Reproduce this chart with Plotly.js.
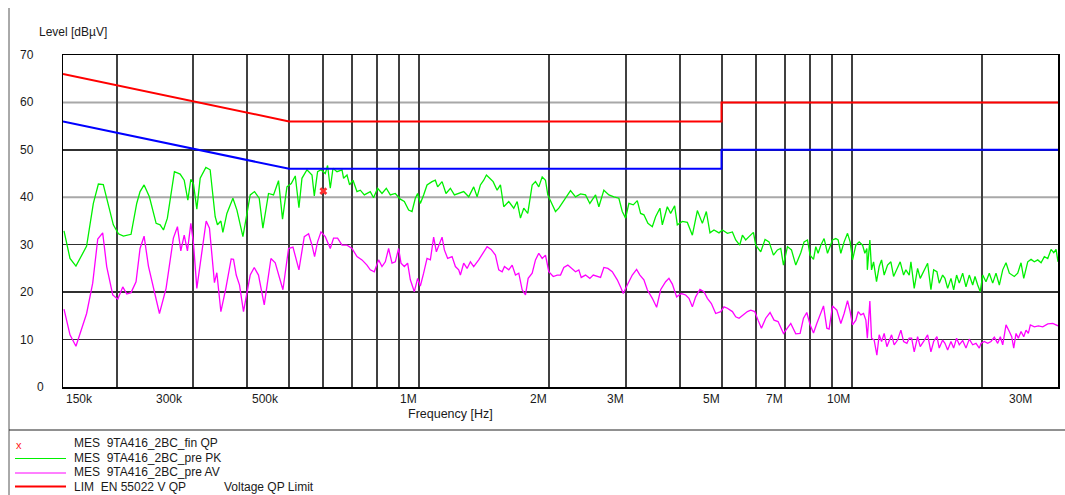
<!DOCTYPE html>
<html>
<head>
<meta charset="utf-8">
<script src="https://cdn.plot.ly/plotly-3.0.1.min.js"></script>
<style>html,body{margin:0;padding:0;background:#fff;}#chart{width:1065px;height:495px;}</style>
</head>
<body>
<div id="chart"></div>
<script>
// ---- Data (frequency in MHz, level in dBµV) ----
const freqPK = [0.1508,0.1557,0.1607,0.1701,0.1763,0.1811,0.1859,0.1961,0.2015,0.2069,
0.2155,0.2221,0.2261,0.2310,0.2376,0.2463,0.2516,0.2561,0.2615,0.2715,
0.2799,0.2860,0.2916,0.2963,0.3005,0.3059,0.3114,0.3210,0.3284,0.3373,
0.3414,0.3477,0.3514,0.3590,0.3707,0.3787,0.3910,0.4065,0.4159,0.4264,
0.4349,0.4481,0.4602,0.4726,0.4828,0.4943,0.5058,0.5167,0.5269,0.5354,
0.5499,0.5648,0.5718,0.5819,0.5925,0.6062,0.6137,0.6226,0.6316,0.6452,
0.6627,0.6683,0.6806,0.6901,0.7027,0.7177,0.7305,0.7463,0.7704,0.7840,
0.8010,0.8200,0.8390,0.8571,0.8802,0.9040,0.9235,0.9449,0.9622,0.9792,
0.9913,1.0057,1.0235,1.0422,1.0705,1.0894,1.1029,1.1291,1.1529,1.1802,
1.2057,1.2336,1.2668,1.3012,1.3362,1.3607,1.3849,1.4094,1.4299,1.4553,
1.4819,1.5137,1.5407,1.5680,1.6105,1.6539,1.6841,1.7141,1.7444,1.7820,
1.8244,1.8567,1.8897,1.9243,1.9584,1.9825,2.0187,2.0656,2.1024,2.1591,
2.2376,2.2980,2.3601,2.4238,2.4802,2.5566,2.6021,2.6722,2.7446,2.8185,
2.8948,2.9477,3.0000,3.0534,3.1258,3.1929,3.2498,3.3073,3.3787,3.4589,
3.5203,3.6020,3.6483,3.7467,3.8134,3.8958,3.9518,4.0588,4.1682,4.2810,
4.3964,4.5154,4.6117,4.7023,4.8034,4.9334,5.0235,5.1589,5.2986,5.3926,
5.5089,5.5887,5.6878,5.7890,5.9263,5.9993,6.1614,6.3044,6.4403,6.5930,
6.7347,6.8547,6.9541,7.1035,7.2568,7.4252,7.6259,7.7609,7.9027,8.0137,
8.1601,8.2607,8.3626,8.4839,8.6341,8.7919,9.0299,9.1901,9.3035,9.4385,
9.6056,9.7811,9.9185,10.046,10.224,10.406,10.596,10.727,10.841,10.870,
11.016,11.116,11.236,11.414,11.577,11.725,11.889,12.105,12.321,12.500,
12.769,12.948,13.184,13.347,13.585,13.708,13.951,14.205,14.405,14.668,
14.983,15.250,15.471,15.746,15.940,16.231,16.432,16.669,16.966,17.212,
17.482,17.734,18.058,18.378,18.705,19.047,19.283,19.560,19.834,20.089,
20.445,20.809,21.189,21.565,21.949,22.350,22.746,23.151,23.774,24.209,
24.640,24.997,25.534,25.989,26.449,26.932,27.412,27.897,28.407,28.913,
29.332,29.694,30.0];
const levelPK = [32.9,27.1,25.5,29.7,38.7,42.8,42.7,34.2,32.3,31.8,
32.2,38.7,41.2,42.6,40.1,34.5,34.2,33.1,35.6,45.4,
44.9,43.6,39.4,43.8,42.8,37.5,44.0,46.3,45.8,35.9,
34.2,35.0,32.6,36.6,39.8,37.3,31.7,40.5,41.2,39.8,
33.5,40.8,40.5,43.5,35.4,42.2,42.9,44.5,37.8,44.0,
45.8,44.7,40.3,45.4,45.8,45.0,46.7,41.9,46.1,45.4,
45.8,44.0,44.7,42.6,43.6,41.2,41.5,40.5,41.2,39.9,
41.9,40.8,41.9,40.5,40.8,39.6,39.1,37.3,37.0,39.8,
40.8,38.7,40.5,42.6,43.3,43.6,42.2,43.3,40.8,41.9,
40.5,40.8,41.2,40.1,42.2,40.1,42.6,43.6,44.7,44.0,
43.3,41.5,42.6,38.0,39.1,37.7,39.1,35.6,37.7,36.6,
42.6,43.3,42.2,44.3,43.6,40.5,39.1,37.0,37.7,39.4,
41.4,40.1,40.7,40.5,38.7,40.5,38.0,41.5,40.5,40.1,
39.8,37.0,35.6,38.7,38.4,39.3,36.6,36.3,34.5,33.8,
35.9,37.7,34.2,38.0,36.6,38.2,34.2,34.9,34.7,32.0,
37.2,34.5,37.0,32.5,33.1,32.5,33.1,32.4,32.7,31.0,
29.9,32.0,31.0,31.7,32.6,29.9,28.5,31.1,30.6,27.8,
28.9,29.2,25.7,29.6,28.9,25.7,28.3,30.6,31.0,27.8,
26.9,29.6,28.2,29.9,31.3,28.2,31.0,31.3,31.0,28.2,
30.6,32.4,30.6,26.8,29.9,30.6,29.9,28.2,29.2,24.7,
31.0,24.7,26.4,22.2,25.4,26.8,23.6,25.7,26.4,23.3,
25.4,26.4,23.6,24.7,23.6,26.4,20.8,25.0,22.9,24.3,
26.1,20.5,24.7,24.3,21.9,23.6,22.9,20.8,22.9,20.5,
23.6,21.9,24.0,21.1,23.6,21.5,23.3,21.5,20.1,23.6,
22.2,24.0,21.9,24.0,21.5,24.7,26.2,24.0,23.3,24.0,
26.2,22.9,26.4,26.9,26.4,26.8,26.2,27.5,27.1,29.0,
28.3,29.0,26.4];

const freqAV = [0.1508,0.1557,0.1607,0.1701,0.1757,0.1805,0.1853,0.1893,0.1955,0.2008,
0.2062,0.2107,0.2155,0.2213,0.2261,0.2310,0.2364,0.2427,0.2507,0.2597,
0.2700,0.2759,0.2809,0.2860,0.2910,0.2963,0.3005,0.3059,0.3142,0.3215,
0.3272,0.3360,0.3403,0.3477,0.3570,0.3673,0.3719,0.3773,0.3840,0.3922,
0.4065,0.4153,0.4248,0.4380,0.4539,0.4644,0.4838,0.4986,0.5104,0.5269,
0.5421,0.5547,0.5648,0.5727,0.5819,0.5925,0.6062,0.6226,0.6336,0.6473,
0.6627,0.6806,0.6990,0.7177,0.7371,0.7569,0.7704,0.7870,0.8053,0.8200,
0.8345,0.8494,0.8649,0.8802,0.8959,0.9073,0.9235,0.9399,0.9535,0.9741,
0.9913,1.0057,1.0235,1.0422,1.0608,1.0796,1.0953,1.1088,1.1291,1.1431,
1.1633,1.1909,1.2121,1.2336,1.2448,1.2668,1.2900,1.3130,1.3362,1.3724,
1.4050,1.4351,1.4661,1.5001,1.5268,1.5547,1.5740,1.6105,1.6399,1.6690,
1.6987,1.7297,1.7604,1.7857,1.8244,1.8567,1.8897,1.9243,1.9584,1.9932,
2.0405,2.0844,2.1215,2.1591,2.2056,2.2580,2.2980,2.3389,2.3688,2.4238,
2.4802,2.5255,2.5797,2.6257,2.6722,2.7299,2.7947,2.8700,2.9211,2.9635,
3.0272,3.1091,3.1812,3.2378,3.3073,3.3677,3.4589,3.5391,3.6154,3.7130,
3.7791,3.8481,3.9373,4.0371,4.1308,4.2042,4.2810,4.3569,4.4581,4.5539,
4.6372,4.7373,4.8472,4.9782,5.0663,5.1589,5.2986,5.3926,5.4885,5.6186,
5.7394,5.8416,5.9678,6.0733,6.1842,6.3278,6.4748,6.6138,6.7567,6.9541,
7.1035,7.2300,7.4252,7.5977,7.7365,7.8738,8.0137,8.1601,8.3049,8.4525,
8.6069,8.7597,8.8680,9.0299,9.2393,9.4385,9.6056,9.7811,9.9185,10.046,
10.224,10.350,10.500,10.652,10.784,10.870,11.016,11.116,11.271,11.435,
11.577,11.725,11.889,12.062,12.210,12.367,12.539,12.769,12.996,13.184,
13.418,13.585,13.759,13.951,14.205,14.405,14.668,14.983,15.250,15.471,
15.746,15.940,16.231,16.432,16.669,16.966,17.212,17.482,17.734,18.058,
18.378,18.705,19.047,19.385,19.729,19.908,20.260,20.631,20.998,21.370,
21.760,22.066,22.350,22.746,23.151,23.447,23.700,23.992,24.288,24.640,
24.997,25.305,25.617,25.893,26.449,27.020,27.661,28.407,29.176,30.0];
const levelAV = [16.4,11.0,8.6,15.5,21.9,31.2,32.5,25.4,19.4,18.5,
21.1,19.6,19.9,22.2,29.2,31.8,25.5,20.8,15.5,20.8,
31.4,33.8,28.7,32.0,28.7,34.5,30.3,20.8,28.5,35.0,
33.5,22.0,24.1,15.9,20.8,27.0,26.9,23.6,21.5,15.9,
23.6,25.2,23.6,17.3,27.1,26.2,20.5,29.2,29.5,24.7,
31.7,32.3,29.9,27.5,30.6,32.7,31.7,29.2,31.4,31.4,
29.9,29.9,29.2,27.5,26.8,25.7,24.7,24.3,26.8,25.4,
26.4,29.2,26.1,26.4,29.2,26.1,25.4,26.1,22.6,20.1,
22.9,21.3,24.0,27.1,26.8,31.6,28.5,29.9,31.6,28.9,
27.1,27.5,25.4,24.7,23.6,26.1,25.0,26.4,25.4,26.8,
28.2,29.6,29.0,27.8,24.7,24.3,25.4,24.7,25.7,23.6,
24.0,20.5,19.4,22.9,24.0,26.8,28.2,27.1,27.8,24.3,
23.3,23.6,23.6,25.2,25.7,25.0,24.3,24.7,23.1,23.6,
22.9,23.6,23.3,23.1,25.2,25.0,24.3,22.6,21.1,19.7,
21.5,23.6,24.8,23.6,22.6,20.5,18.7,16.8,20.5,22.2,
22.9,21.7,19.0,19.7,19.4,18.7,16.9,19.0,20.6,20.1,
18.7,17.6,15.5,15.9,16.9,16.6,15.9,14.8,14.5,15.2,
15.9,16.2,15.9,14.1,12.4,14.5,15.7,14.1,13.8,11.3,
12.4,13.4,11.2,11.3,14.5,15.7,13.1,11.4,13.4,15.2,
17.1,12.4,12.2,17.1,16.2,13.4,15.5,18.2,15.9,13.1,
14.1,15.9,15.2,15.5,14.1,10.3,18.1,10.3,9.9,6.7,
11.0,9.6,11.3,8.5,9.9,11.0,8.9,9.9,12.0,9.6,
9.2,10.3,10.3,7.4,10.6,8.5,9.6,11.0,7.4,9.6,
10.6,8.2,9.9,9.2,7.8,9.6,8.2,10.3,8.9,9.8,
8.2,10.1,8.9,9.2,8.2,9.2,9.6,9.2,9.6,10.5,
9.2,10.6,8.9,13.1,11.7,10.6,8.2,11.3,10.3,11.7,
10.6,12.0,11.3,13.1,12.7,12.9,12.7,13.3,13.4,12.9];

const limitFreq = [0.15, 0.5, 5, 5, 30];
const limitQP = [66, 56, 56, 60, 60];
const limitAV = [56, 46, 46, 50, 50];

const finQPFreq = [0.6];
const finQPLevel = [41.3];

const xLabelFreqs = [0.15, 0.3, 0.5, 1, 2, 3, 5, 7, 10, 30];
const xLabelTexts = ['150k','300k','500k','1M','2M','3M','5M','7M','10M','30M'];
const xGridFreqs = [0.2,0.3,0.4,0.5,0.6,0.7,0.8,0.9,1,2,3,4,5,6,7,8,9,10,20];
const yTickVals = [0,10,20,30,40,50,60,70];
const yDarkGrid = [10,20,30,50];
const yLightGrid = [40,60];

const legendTexts = ['MES\u00A0\u00A09TA416_2BC_fin QP','MES\u00A0\u00A09TA416_2BC_pre PK','MES\u00A0\u00A09TA416_2BC_pre AV','LIM\u00A0\u00A0EN 55022 V QP'];

// ---- Layout helpers (pixel -> paper) ----
const L = 63, R = 1058, T = 55, B = 387;
const px = x => (x - L) / (R - L);
const py = y => (B - y) / (B - T);
const FONT = 'Liberation Sans, Arial, sans-serif';
const TXT = '#1a1a1a';

const traces = [
  {x: freqPK, y: levelPK, mode: 'lines', line: {color: '#00f000', width: 1.3}, hoverinfo: 'skip'},
  {x: freqAV, y: levelAV, mode: 'lines', line: {color: '#ff00ff', width: 1.3}, hoverinfo: 'skip'},
  {x: limitFreq, y: limitAV, mode: 'lines', line: {color: '#0000ff', width: 2}, hoverinfo: 'skip'},
  {x: limitFreq, y: limitQP, mode: 'lines', line: {color: '#ff0000', width: 2}, hoverinfo: 'skip'},
  {x: finQPFreq, y: finQPLevel, mode: 'markers', marker: {symbol: 'x', size: 7, color: '#ff3030', line: {width: 0}}, hoverinfo: 'skip'}
];

const annotations = [];
xLabelFreqs.forEach((f, i) => {
  const t = xLabelTexts[i];
  let anchor = 'right', shift = 0;
  if (i === 0) { anchor = 'left'; shift = 1; }
  else if (i === xLabelFreqs.length - 1) { shift = -24; }
  else if (t.endsWith('k')) { shift = -8; }
  annotations.push({x: Math.log10(f), xref: 'x', y: 0, yref: 'paper', yanchor: 'top', yshift: -3,
    xanchor: anchor, xshift: shift, text: t, showarrow: false, font: {family: FONT, size: 12, color: TXT}});
});
yTickVals.forEach(v => {
  annotations.push({x: 0, xref: 'paper', y: v, yref: 'y', xanchor: 'right', yanchor: 'middle',
    xshift: v === 0 ? -17 : -27, text: String(v), showarrow: false, font: {family: FONT, size: 12, color: TXT}});
});
annotations.push({x: px(37), xref: 'paper', y: py(32), yref: 'paper', xanchor: 'left', yanchor: 'middle',
  text: 'Level [dBµV]', showarrow: false, font: {family: FONT, size: 12, color: TXT}});
annotations.push({x: px(450), xref: 'paper', y: py(414), yref: 'paper', xanchor: 'center', yanchor: 'middle',
  text: 'Frequency [Hz]', showarrow: false, font: {family: FONT, size: 12.5, color: TXT}});

const rowY = [443, 457.5, 472, 486.5];
legendTexts.forEach((t, i) => {
  annotations.push({x: px(72), xref: 'paper', y: py(rowY[i]), yref: 'paper', xanchor: 'left', yanchor: 'middle',
    text: t, showarrow: false, font: {family: FONT, size: 12, color: TXT}});
});
annotations.push({x: px(222), xref: 'paper', y: py(rowY[3]), yref: 'paper', xanchor: 'left', yanchor: 'middle',
  text: 'Voltage QP Limit', showarrow: false, font: {family: FONT, size: 12, color: TXT}});
annotations.push({x: px(18.5), xref: 'paper', y: py(rowY[0] + 1.5), yref: 'paper', xanchor: 'center', yanchor: 'middle',
  text: 'x', showarrow: false, font: {family: FONT, size: 11, color: '#ff2020'}});

const shapes = [
  {type: 'line', xref: 'paper', yref: 'paper', x0: px(9), x1: px(9), y0: py(8), y1: py(495), line: {color: '#555', width: 1}},
  {type: 'line', xref: 'paper', yref: 'paper', x0: px(9), x1: px(1065), y0: py(430), y1: py(430), line: {color: '#222', width: 1}},
  {type: 'line', xref: 'paper', yref: 'paper', x0: px(15), x1: px(66), y0: py(rowY[1] + 1), y1: py(rowY[1] + 1), line: {color: '#00f000', width: 1}},
  {type: 'line', xref: 'paper', yref: 'paper', x0: px(15), x1: px(66), y0: py(rowY[2] + 1), y1: py(rowY[2] + 1), line: {color: '#ff00ff', width: 1}},
  {type: 'line', xref: 'paper', yref: 'paper', x0: px(15), x1: px(66), y0: py(rowY[3]), y1: py(rowY[3]), line: {color: '#ff0000', width: 2}}
];
yLightGrid.forEach(v => {
  shapes.push({type: 'line', xref: 'paper', yref: 'y', x0: 0, x1: 1, y0: v, y1: v, layer: 'below',
    line: {color: '#a8a8a8', width: 2}});
});

const layout = {
  width: 1065, height: 495,
  margin: {l: L, r: 1065 - R, t: T, b: 495 - B, pad: 0},
  paper_bgcolor: '#fff', plot_bgcolor: '#fff',
  showlegend: false,
  font: {family: FONT, size: 12, color: TXT},
  xaxis: {type: 'log', range: [Math.log10(0.15), Math.log10(30)], tickmode: 'array', tickvals: xGridFreqs,
    showticklabels: false, ticks: '', showgrid: true, gridcolor: '#404040', gridwidth: 2, zeroline: false,
    showline: true, linecolor: '#000', linewidth: 1.5, mirror: true, fixedrange: true},
  yaxis: {range: [0, 70], tickmode: 'array', tickvals: yDarkGrid, showticklabels: false, ticks: '',
    showgrid: true, gridcolor: '#303030', gridwidth: 1.5, zeroline: false,
    showline: true, linecolor: '#000', linewidth: 1.5, mirror: true, fixedrange: true},
  annotations: annotations,
  shapes: shapes
};

Plotly.newPlot('chart', traces, layout, {displayModeBar: false, staticPlot: true});
</script>
</body>
</html>
